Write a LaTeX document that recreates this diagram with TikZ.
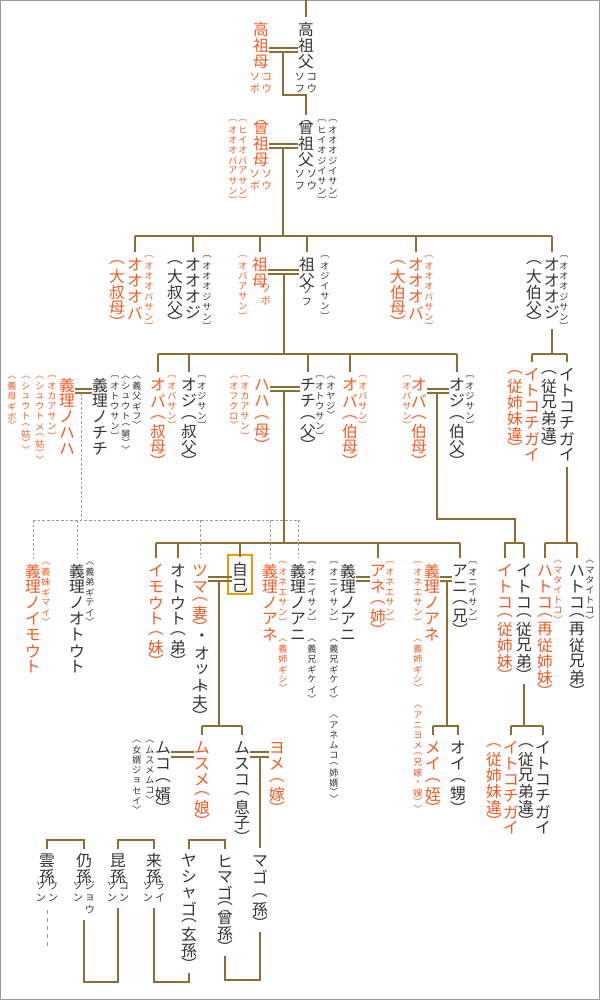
\documentclass[tikz,border=0pt]{standalone}
\usepackage{fontspec}
\newfontfamily\jp{Noto Sans CJK JP}
\usetikzlibrary{positioning}
\definecolor{ink}{HTML}{333333}
\definecolor{kred}{HTML}{F15A24}
\definecolor{kline}{HTML}{8A6E35}
\definecolor{kgray}{HTML}{9A9A9A}
\definecolor{korange}{HTML}{F39800}

% vertical text: one glyph per line, brackets at reduced pitch
\newdimen\vtp
\newcount\vthalf
\def\vtc#1{\vthalf=0
  \ifx#1︵\vthalf=1 \fi\ifx#1︶\vthalf=1 \fi
  \ifx#1︹\vthalf=1 \fi\ifx#1︺\vthalf=1 \fi
  \ifx#1︿\vthalf=1 \fi\ifx#1﹀\vthalf=1 \fi
  \vbox to\ifnum\vthalf=1 .7\vtp\else\vtp\fi{\vss\hbox to\vtp{\hss#1\hss}\vss}}
\def\vtl#1{\ifx\relax#1\else\vtc{#1}\expandafter\vtl\fi}
\newcommand\vt[1]{\vtop{\offinterlineskip\vtl#1\relax}}
\newcommand\vb[1]{\vbox{\offinterlineskip\vtl#1\relax}}
\newcommand\rb[2]{\hbox{\vb{#1}\vb{#2}}}

\tikzset{
  main/.style={inner sep=0, outer sep=0, anchor=north, text=ink,
    font={\jp\fontsize{11.8}{12}\selectfont\vtp=12pt}},
  ann/.style={main, font={\jp\fontsize{6.8}{7}\selectfont\vtp=7.6pt}},
  rd/.style={main, font={\jp\fontsize{7.6}{8}\selectfont\vtp=9pt}},
  kr/.style={text=kred},
  ln/.style={draw=kline, line width=1.1pt},
  gp/.style={shorten >=3.5pt},
  dl/.style={draw=kgray, line width=0.7pt, dash pattern=on 2pt off 1.5pt}
}

\begin{document}
\begin{tikzpicture}[x=0.75pt, y=-0.75pt]
\useasboundingbox (0,0) rectangle (600,1000);
\draw[kgray, line width=1pt] (0.5,0.5) rectangle (599.5,999.5);

% great-great grandparents
\node[main] (kosofu) at (306,22) {\vt{高祖父}};
\node[rd] (kosofuR) at (306,71) {\rb{ソフ}{コウ}};
\node[main, kr] (kosobo) at (261,22) {\vt{高祖母}};
\node[rd, kr] (kosoboR) at (261,71) {\rb{ソボ}{コウ}};
\draw[ln, gp] (306,0) -- (kosofu.north);
\draw[ln] (kosobo.east |- 0,48) -- (kosofu.west |- 0,48);
\draw[ln] (kosobo.east |- 0,52) -- (kosofu.west |- 0,52);

% great grandparents
\node[main] (hisofu) at (306,120) {\vt{曾祖父}};
\node[rd] (hisofuR) at (306,168) {\rb{ソフ}{ソウ}};
\node[ann] (hisofuA) at (322,118) {\vt{︹ヒイオジイサン︺}};
\node[ann] (hisofuB) at (333,118) {\vt{︹オオオジイサン︺}};
\node[main, kr] (hisobo) at (261,120) {\vt{曾祖母}};
\node[rd, kr] (hisoboR) at (261,168) {\rb{ソボ}{ソウ}};
\node[ann, kr] (hisoboA) at (243,118) {\vt{︹ヒイオバアサン︺}};
\node[ann, kr] (hisoboB) at (233,118) {\vt{︹オオオバアサン︺}};
\draw[ln, gp] (283,52) |- (306,95) -- (hisofu.north);
\draw[ln] (hisobo.east |- 0,144) -- (hisofu.west |- 0,144);
\draw[ln] (hisobo.east |- 0,148) -- (hisofu.west |- 0,148);
\draw[ln] (283,148) -- (283,236);

% grandparents' generation
\coordinate (g3) at (0,236);
\draw[ln] (135,236) -- (552,236);
\node[main, kr] (ooba1) at (135,257) {\vt{オオオバ}};
\node[main, kr] (ooba1K) at (117,257) {\vt{︵大叔母︶}};
\node[ann, kr] at (149,254) {\vt{︹オオオバサン︺}};
\node[main] (ooji1) at (193,257) {\vt{オオオジ}};
\node[main] (ooji1K) at (175,257) {\vt{︵大叔父︶}};
\node[ann] at (207,254) {\vt{︹オオオジサン︺}};
\node[main, kr] (sobo) at (260,257) {\vt{祖母}};
\node[rd, kr] at (266,283) {\vt{ソボ}};
\node[ann, kr] at (243,254) {\vt{︹オバアサン︺}};
\node[main] (sofu) at (307,257) {\vt{祖父}};
\node[rd] at (307,284) {\vt{ソフ}};
\node[ann] at (325,254) {\vt{︹オジイサン︺}};
\node[main, kr] (ooba2) at (416,257) {\vt{オオオバ}};
\node[main, kr] (ooba2K) at (398,257) {\vt{︵大伯母︶}};
\node[ann, kr] at (429,254) {\vt{︹オオオバサン︺}};
\node[main] (ooji2) at (552,257) {\vt{オオオジ}};
\node[main] (ooji2K) at (534,257) {\vt{︵大伯父︶}};
\node[ann] at (564,254) {\vt{︹オオオジサン︺}};
\foreach \n in {ooba1,ooji1,sobo,sofu,ooba2,ooji2}
  \draw[ln, gp] (\n.north |- g3) -- (\n.north);
\draw[ln] (sobo.east |- 0,270) -- (sofu.west |- 0,270);
\draw[ln] (sobo.east |- 0,274) -- (sofu.west |- 0,274);

% first cousins once removed (right)
\node[main, kr] (chigai1) at (532,367) {\vt{イトコチガイ}};
\node[main, kr] at (515,367) {\vt{︵従姉妹違︶}};
\node[main] (chigai2) at (567,367) {\vt{イトコチガイ}};
\node[main] at (549,367) {\vt{︵従兄弟違︶}};
\draw[ln] (ooji2.south) ++(0,8) -- (552,354);
\draw[ln] (532,354) -- (567,354);
\draw[ln, gp] (chigai1.north |- 0,354) -- (chigai1.north);
\draw[ln, gp] (chigai2.north |- 0,354) -- (chigai2.north);

% parents' generation
\coordinate (g4) at (0,354);
\draw[ln] (284,274) -- (284,354);
\draw[ln] (158,354) -- (457,354);
\node[main, kr] (oba1) at (158,377) {\vt{オバ}};
\node[main, kr] at (158,412) {\vt{︵叔母︶}};
\node[ann, kr] at (172,374) {\vt{︹オバサン︺}};
\node[main] (oji1) at (189,377) {\vt{オジ}};
\node[main] at (189,412) {\vt{︵叔父︶}};
\node[ann] at (202,374) {\vt{︹オジサン︺}};
\node[main] (gchichi) at (100,377) {\vt{義理ノチチ}};
\node[ann] at (115,374) {\vt{︹オトウサン︺}};
\node[ann] at (126,374) {\vt{︿シュウト︵舅︶﹀}};
\node[ann] at (137,374) {\vt{︿義父ギフ﹀}};
\node[main, kr] (ghaha) at (67,377) {\vt{義理ノハハ}};
\node[ann, kr] at (52,374) {\vt{︹オカアサン︺}};
\node[ann, kr] at (40,374) {\vt{︿シュウトメ︵姑︶﹀}};
\node[ann, kr] at (26,374) {\vt{︿シュウト︵姑︶﹀}};
\node[ann, kr] at (12,374) {\vt{︿義母ギボ﹀}};
\draw[ln] (ghaha.east |- 0,389) -- (gchichi.west |- 0,389);
\draw[ln] (ghaha.east |- 0,393) -- (gchichi.west |- 0,393);
\node[main, kr] (haha) at (262,377) {\vt{ハハ}};
\node[main, kr] at (262,412) {\vt{︵母︶}};
\node[ann, kr] at (245,374) {\vt{︹オカアサン︺}};
\node[ann, kr] at (234,374) {\vt{︿オフクロ﹀}};
\node[main] (chichi) at (308,377) {\vt{チチ}};
\node[main] at (308,412) {\vt{︵父︶}};
\node[ann] at (320,374) {\vt{︹オトウサン︺}};
\node[ann] at (331,374) {\vt{︿オヤジ﹀}};
\draw[ln] (haha.east |- 0,387) -- (chichi.west |- 0,387);
\draw[ln] (haha.east |- 0,391) -- (chichi.west |- 0,391);
\node[main, kr] (oba2) at (350,377) {\vt{オバ}};
\node[main, kr] at (350,412) {\vt{︵伯母︶}};
\node[ann, kr] at (363,374) {\vt{︹オバサン︺}};
\node[main, kr] (oba3) at (419,377) {\vt{オバ}};
\node[main, kr] at (419,412) {\vt{︵伯母︶}};
\node[ann, kr] at (407,374) {\vt{︹オバサン︺}};
\node[main] (oji2) at (457,377) {\vt{オジ}};
\node[main] at (457,412) {\vt{︵伯父︶}};
\node[ann] at (470,374) {\vt{︹オジサン︺}};
\foreach \n in {oba1,oji1,chichi,oba2,oji2}
  \draw[ln, gp] (\n.north |- g4) -- (\n.north);
\draw[ln] (oba3.east |- 0,389) -- (oji2.west |- 0,389);
\draw[ln] (oba3.east |- 0,393) -- (oji2.west |- 0,393);

% own generation
\coordinate (g5) at (0,543);
\draw[ln] (284,391) -- (284,543);
\draw[ln] (156,543) -- (460,543);
\draw[ln] (437,393) |- (515,519) -- (515,543);
\draw[ln] (504,543) -- (524,543);
\draw[ln] (chigai2.south) ++(0,4) -- (567,543);
\draw[ln] (545,543) -- (577,543);
\draw[dl] (81,393) -- (81,520);
\draw[dl] (33,520) -- (300,520);

\node[main, kr] (gimouto) at (33,563) {\vt{義理ノイモウト}};
\node[ann, kr] at (46,560) {\vt{︿義妹ギマイ﹀}};
\node[main] (gotouto) at (77,563) {\vt{義理ノオトウト}};
\node[ann] at (90,560) {\vt{︿義弟ギテイ﹀}};
\node[main, kr] (imouto) at (156,563) {\vt{イモウト}};
\node[main, kr] at (156,628) {\vt{︵妹︶}};
\node[main] (otouto) at (178,563) {\vt{オトウト}};
\node[main] at (178,628) {\vt{︵弟︶}};
\node[main, kr] (tsuma) at (200,563) {\vt{ツマ}};
\node[main, kr] at (200,594) {\vt{︵妻︶}};
\node[main] (otto) at (202,630) {\vt{・オット}};
\node[main] at (200,683) {\vt{︵夫︶}};
\node[main] (jiko) at (240,562) {\vt{自己}};
\draw[korange, line width=2.2pt] (228,555) rectangle (252,594);
\node[main, kr] (giane1) at (270,563) {\vt{義理ノアネ}};
\node[ann, kr] at (283,560) {\vt{︹オネエサン︺}};
\node[ann, kr] at (283,637) {\vt{︿義姉ギシ﹀}};
\node[main] (giani1) at (298,563) {\vt{義理ノアニ}};
\node[ann] at (312,560) {\vt{︹オニイサン︺}};
\node[ann] at (312,637) {\vt{︿義兄ギケイ﹀}};
\node[main] (giani2) at (348,563) {\vt{義理ノアニ}};
\node[ann] at (334,560) {\vt{︹オニイサン︺}};
\node[ann] at (334,637) {\vt{︿義兄ギケイ﹀}};
\node[ann] at (334,713) {\vt{︿アネムコ︵姉婿︶﹀}};
\node[main, kr] (ane) at (378,563) {\vt{アネ}};
\node[main, kr] at (378,597) {\vt{︵姉︶}};
\node[ann, kr] at (390,560) {\vt{︹オネエサン︺}};
\node[main, kr] (giane2) at (432,563) {\vt{義理ノアネ}};
\node[ann, kr] at (418,560) {\vt{︹オネエサン︺}};
\node[ann, kr] at (418,637) {\vt{︿義姉ギシ﹀}};
\node[ann, kr] at (418,703) {\vt{︿アニヨメ︵兄嫁・嫂︶﹀}};
\node[main] (ani) at (460,563) {\vt{アニ}};
\node[main] at (460,597) {\vt{︵兄︶}};
\node[ann] at (473,560) {\vt{︹オニイサン︺}};
\node[main, kr] (itoko1) at (505,563) {\vt{イトコ}};
\node[main, kr] at (505,610) {\vt{︵従姉妹︶}};
\node[main] (itoko2) at (524,563) {\vt{イトコ}};
\node[main] (itoko2K) at (524,610) {\vt{︵従兄弟︶}};
\node[main, kr] (hatoko1) at (545,563) {\vt{ハトコ}};
\node[main, kr] at (545,610) {\vt{︵再従姉妹︶}};
\node[ann, kr] at (558,558) {\vt{︿マタイトコ﹀}};
\node[main] (hatoko2) at (577,563) {\vt{ハトコ}};
\node[main] at (577,610) {\vt{︵再従兄弟︶}};
\node[ann] at (590,558) {\vt{︿マタイトコ﹀}};
\foreach \n in {imouto,otouto,jiko,ane,ani}
  \draw[ln, gp] (\n.north |- g5) -- (\n.north);
\foreach \n in {itoko1,itoko2,hatoko1,hatoko2}
  \draw[ln, gp] (\n.north |- g5) -- (\n.north);
\foreach \n in {gimouto,gotouto,tsuma,giane1,giani1}
  \draw[dl, gp] (\n.north |- 0,520) -- (\n.north);
\draw[ln] (tsuma.east |- 0,577) -- (jiko.west |- 0,577);
\draw[ln] (tsuma.east |- 0,581) -- (jiko.west |- 0,581);
\draw[ln] (giani2.east |- 0,577) -- (ane.west |- 0,577);
\draw[ln] (giani2.east |- 0,581) -- (ane.west |- 0,581);
\draw[ln] (giane2.east |- 0,577) -- (ani.west |- 0,577);
\draw[ln] (giane2.east |- 0,581) -- (ani.west |- 0,581);

% children, nephews, second cousins once removed
\coordinate (g6) at (0,726);
\draw[ln] (219,581) -- (219,726);
\draw[ln] (202,726) -- (242,726);
\draw[ln] (447,581) -- (447,726);
\draw[ln] (433,726) -- (459,726);
\draw[ln] (itoko2K.south) ++(0,4) -- (524,726);
\draw[ln] (511,726) -- (543,726);
\node[main, kr] (musume) at (202,740) {\vt{ムスメ}};
\node[main, kr] at (202,788) {\vt{︵娘︶}};
\node[main] (musuko) at (242,740) {\vt{ムスコ}};
\node[main] at (242,788) {\vt{︵息子︶}};
\node[main] (muko) at (163,740) {\vt{ムコ}};
\node[main] at (163,775) {\vt{︵婿︶}};
\node[ann] at (150,738) {\vt{︿ムスメムコ﹀}};
\node[ann] at (137,738) {\vt{︿女婿ジョセイ﹀}};
\node[main, kr] (yome) at (277,740) {\vt{ヨメ}};
\node[main, kr] at (277,775) {\vt{︵嫁︶}};
\node[main, kr] (mei) at (433,740) {\vt{メイ}};
\node[main, kr] at (433,775) {\vt{︵姪︶}};
\node[main] (oi) at (458,740) {\vt{オイ}};
\node[main] at (458,775) {\vt{︵甥︶}};
\node[main, kr] (chigai3) at (511,740) {\vt{イトコチガイ}};
\node[main, kr] at (494,740) {\vt{︵従姉妹違︶}};
\node[main] (chigai4) at (543,740) {\vt{イトコチガイ}};
\node[main] at (526,740) {\vt{︵従兄弟違︶}};
\foreach \n in {musume,musuko,mei,oi,chigai3,chigai4}
  \draw[ln, gp] (\n.north |- g6) -- (\n.north);
\draw[ln] (muko.east |- 0,752) -- (musume.west |- 0,752);
\draw[ln] (muko.east |- 0,757) -- (musume.west |- 0,757);
\draw[ln] (musuko.east |- 0,752) -- (yome.west |- 0,752);
\draw[ln] (musuko.east |- 0,757) -- (yome.west |- 0,757);

% descendants
\node[main] (mago) at (260,853) {\vt{マゴ}};
\node[main] (magoK) at (260,890) {\vt{︵孫︶}};
\node[main] (himago) at (225,853) {\vt{ヒマゴ}};
\node[main] (himagoK) at (225,898) {\vt{︵曾孫︶}};
\node[main] (yashago) at (189,853) {\vt{ヤシャゴ}};
\node[main] (yashagoK) at (189,915) {\vt{︵玄孫︶}};
\node[main] (raison) at (154,853) {\vt{来孫}};
\node[rd] (raisonR) at (154,880) {\rb{ソン}{ライ}};
\node[main] (konson) at (118,853) {\vt{昆孫}};
\node[rd] (konsonR) at (118,880) {\rb{ソン}{コン}};
\node[main] (joson) at (84,853) {\vt{仍孫}};
\node[rd] (josonR) at (84,880) {\rb{ソン　}{ジョウ}};
\node[main] (unson) at (47,853) {\vt{雲孫}};
\node[rd] (unsonR) at (47,880) {\rb{ソン}{ウン}};
\draw[ln, gp] (260,757) -- (mago.north);
\draw[ln] (magoK.south) ++(0,4) |- (225,980) -- ([yshift=-3pt]himagoK.south);
\draw[ln] ([yshift=3pt]himago.north) |- (189,840) -- ([yshift=3pt]yashago.north);
\draw[ln] (yashagoK.south) ++(0,4) |- (154,982) -- ([yshift=-3pt]raisonR.south);
\draw[ln] ([yshift=3pt]raison.north) |- (118,840) -- ([yshift=3pt]konson.north);
\draw[ln] (konsonR.south) ++(0,4) |- (84,982) -- ([yshift=-3pt]josonR.south);
\draw[ln] ([yshift=3pt]joson.north) |- (47,840) -- ([yshift=3pt]unson.north);
\draw[dl, dash pattern=on 3pt off 3pt] (unsonR.south) ++(0,6) -- ++(0,40);

\end{tikzpicture}
\end{document}
